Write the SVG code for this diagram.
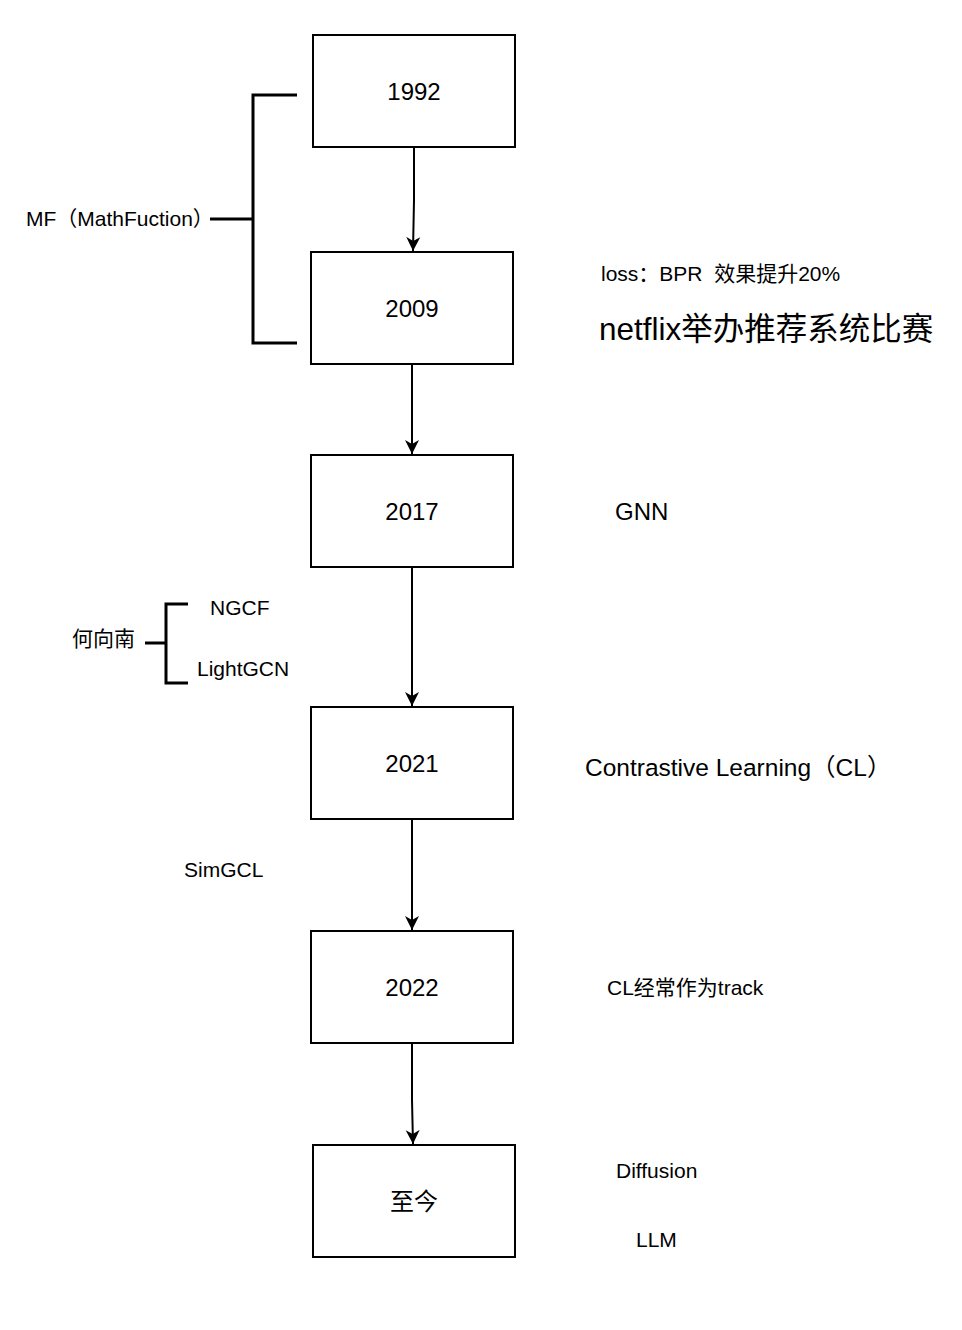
<svg xmlns="http://www.w3.org/2000/svg" width="962" height="1330" viewBox="0 0 962 1330">
<style>
.box{fill:#fff;stroke:#000;stroke-width:2}
.t{font-family:"Liberation Sans","Noto Sans CJK SC",sans-serif;fill:#000}
.bl{font-size:24px;text-anchor:middle}
.s{font-size:21px}
.c{fill:none;stroke:#000;stroke-width:2}
.br{fill:none;stroke:#000;stroke-width:3}
</style>
<defs>
<marker id="ah" markerWidth="16" markerHeight="16" viewBox="0 0 16 16" refX="14" refY="8" orient="auto" markerUnits="userSpaceOnUse">
<path d="M0,1 L14,8 L0,15 L4,8 Z" fill="#000"/>
</marker>
</defs>
<rect width="962" height="1330" fill="#fff"/>
<g id="connectors">
<path class="c" d="M414,148 L414,200 L413,251" marker-end="url(#ah)"/>
<path class="c" d="M412,365 L412,454" marker-end="url(#ah)"/>
<path class="c" d="M412,568 L412,706" marker-end="url(#ah)"/>
<path class="c" d="M412,820 L412,930" marker-end="url(#ah)"/>
<path class="c" d="M412,1044 L412,1100 L413,1144" marker-end="url(#ah)"/>
</g>
<g id="n1992"><rect class="box" x="313" y="35" width="202" height="112"/><text class="t bl" x="414" y="100">1992</text></g>
<g id="n2009"><rect class="box" x="311" y="252" width="202" height="112"/><text class="t bl" x="412" y="317">2009</text></g>
<g id="n2017"><rect class="box" x="311" y="455" width="202" height="112"/><text class="t bl" x="412" y="520">2017</text></g>
<g id="n2021"><rect class="box" x="311" y="707" width="202" height="112"/><text class="t bl" x="412" y="772">2021</text></g>
<g id="n2022"><rect class="box" x="311" y="931" width="202" height="112"/><text class="t bl" x="412" y="996">2022</text></g>
<g id="nnow"><rect class="box" x="313" y="1145" width="202" height="112"/><text class="t bl" x="414" y="1210">至今</text></g>
<g id="mfBracket">
<path class="br" d="M297,95 L253,95 L253,343 L297,343 M253,219 L210,219"/>
<text class="t s" x="26" y="226">MF（MathFuction）</text>
</g>
<g id="heBracket">
<path class="br" d="M188,604 L166,604 L166,683 L188,683 M166,643 L145,643"/>
<text class="t s" x="72" y="646">何向南</text>
<text class="t s" x="210" y="615">NGCF</text>
<text class="t s" x="197" y="676">LightGCN</text>
</g>
<g id="notes">
<text class="t s" x="601" y="281">loss：BPR&#160; 效果提升20%</text>
<text class="t" x="599" y="340" font-size="31.5">netflix举办推荐系统比赛</text>
<text class="t" x="615" y="520" font-size="24">GNN</text>
<text class="t" x="585" y="776" font-size="24.5">Contrastive Learning（CL）</text>
<text class="t s" x="184" y="877">SimGCL</text>
<text class="t s" x="607" y="995">CL经常作为track</text>
<text class="t s" x="616" y="1178">Diffusion</text>
<text class="t s" x="636" y="1247">LLM</text>
</g>
</svg>
